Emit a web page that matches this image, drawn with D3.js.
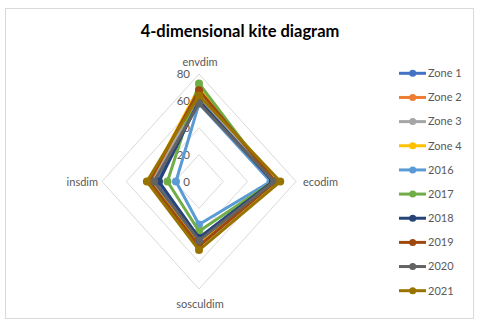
<!DOCTYPE html>
<html>
<head>
<meta charset="utf-8">
<script src="https://cdn.jsdelivr.net/npm/d3@7"></script>
<style>
  body { margin: 0; background: #fff; }
  text { font-family: Lato, "Liberation Sans", sans-serif; }
</style>
</head>
<body>
<script>
const axes = ["envdim", "ecodim", "sosculdim", "insdim"];
const seriesNames = ["Zone 1", "Zone 2", "Zone 3", "Zone 4", "2016", "2017", "2018", "2019", "2020", "2021"];
const colors = ["#4472C4", "#ED7D31", "#A5A5A5", "#FFC000", "#5B9BD5", "#70AD47", "#264478", "#9E480E", "#636363", "#997300"];
// values per series, in axis order: envdim, ecodim, sosculdim, insdim
const zone1 = [60, 60, 42, 34];
const zone2 = [68, 62, 46, 40];
const zone3 = [62, 62, 45, 38];
const zone4 = [70, 63, 47, 41];
const y2016 = [58, 59, 32, 19];
const y2017 = [73, 61, 37, 26];
const y2018 = [60, 61, 42, 33];
const y2019 = [68, 63, 48, 41];
const y2020 = [58, 62, 44, 37];
const y2021 = [64, 67, 51, 43];
const allValues = [zone1, zone2, zone3, zone4, y2016, y2017, y2018, y2019, y2020, y2021];
const ticks = [0, 20, 40, 60, 80];

const w = 480, h = 327;
const cx = 199, cy = 181.5;

const svg = d3.select("body").append("svg").attr("width", w).attr("height", h);

svg.append("rect")
  .attr("x", 5.5).attr("y", 8.5).attr("width", 468).attr("height", 310)
  .attr("fill", "#fff").attr("stroke", "#d9d9d9");

svg.append("text").text("4-dimensional kite diagram")
  .attr("x", 240).attr("y", 37)
  .attr("text-anchor", "middle")
  .attr("font-size", "16.5px").attr("font-weight", "bold")
  .attr("fill", "#000");

const rX = d3.scaleLinear().domain([0, 80]).range([0, 97]);
const rY = d3.scaleLinear().domain([0, 80]).range([0, 107.5]);

function pt(v, i) {
  const a = i * Math.PI / 2 - Math.PI / 2;
  return [cx + rX(v) * Math.cos(a), cy + rY(v) * Math.sin(a)];
}

const line = d3.line().curve(d3.curveLinearClosed);

// grid rings
svg.selectAll(".ring")
  .data(ticks.slice(1)).enter().append("path")
  .attr("class", "ring")
  .attr("d", (t) => line(axes.map((a, i) => pt(t, i))))
  .attr("fill", "none")
  .attr("stroke", "#d9d9d9")
  .attr("stroke-width", 1);

// tick labels
svg.selectAll(".tick")
  .data(ticks).enter().append("text")
  .attr("class", "tick")
  .text((t) => t)
  .attr("x", cx - 9)
  .attr("y", (t) => pt(t, 0)[1])
  .attr("dy", "0.35em")
  .attr("text-anchor", "end")
  .attr("font-size", "11.5px")
  .attr("fill", "#595959");

// axis labels
const labelPos = [
  { x: cx + 1, y: 62, anchor: "middle" },
  { x: 303, y: 182, anchor: "start" },
  { x: cx + 1, y: 304, anchor: "middle" },
  { x: 98, y: 182, anchor: "end" }
];
svg.selectAll(".axislabel")
  .data(axes).enter().append("text")
  .attr("class", "axislabel")
  .text((d) => d)
  .attr("x", (d, i) => labelPos[i].x)
  .attr("y", (d, i) => labelPos[i].y)
  .attr("dy", "0.35em")
  .attr("text-anchor", (d, i) => labelPos[i].anchor)
  .attr("font-size", "11px")
  .attr("fill", "#595959");

// series
allValues.forEach((vals, s) => {
  const pts = vals.map((v, i) => pt(v, i));
  const g = svg.append("g");
  g.append("path")
    .attr("d", line(pts))
    .attr("fill", "none")
    .attr("stroke", colors[s])
    .attr("stroke-width", 3)
    .attr("stroke-linejoin", "round");
  g.selectAll("circle")
    .data(pts).enter().append("circle")
    .attr("cx", (d) => d[0]).attr("cy", (d) => d[1])
    .attr("r", 4)
    .attr("fill", colors[s]);
});

// legend
const legend = svg.append("g").attr("id", "legend");
const ly = d3.scalePoint().domain(seriesNames).range([73.3, 290.7]);
seriesNames.forEach((name, s) => {
  const y = ly(name);
  legend.append("line")
    .attr("x1", 399).attr("x2", 426).attr("y1", y).attr("y2", y)
    .attr("stroke", colors[s]).attr("stroke-width", 3);
  legend.append("circle")
    .attr("cx", 412.7).attr("cy", y).attr("r", 3.5)
    .attr("fill", colors[s]);
  legend.append("text").text(name)
    .attr("x", 428).attr("y", y)
    .attr("dy", "0.35em")
    .attr("font-size", "11px")
    .attr("fill", "#595959");
});
</script>
</body>
</html>
